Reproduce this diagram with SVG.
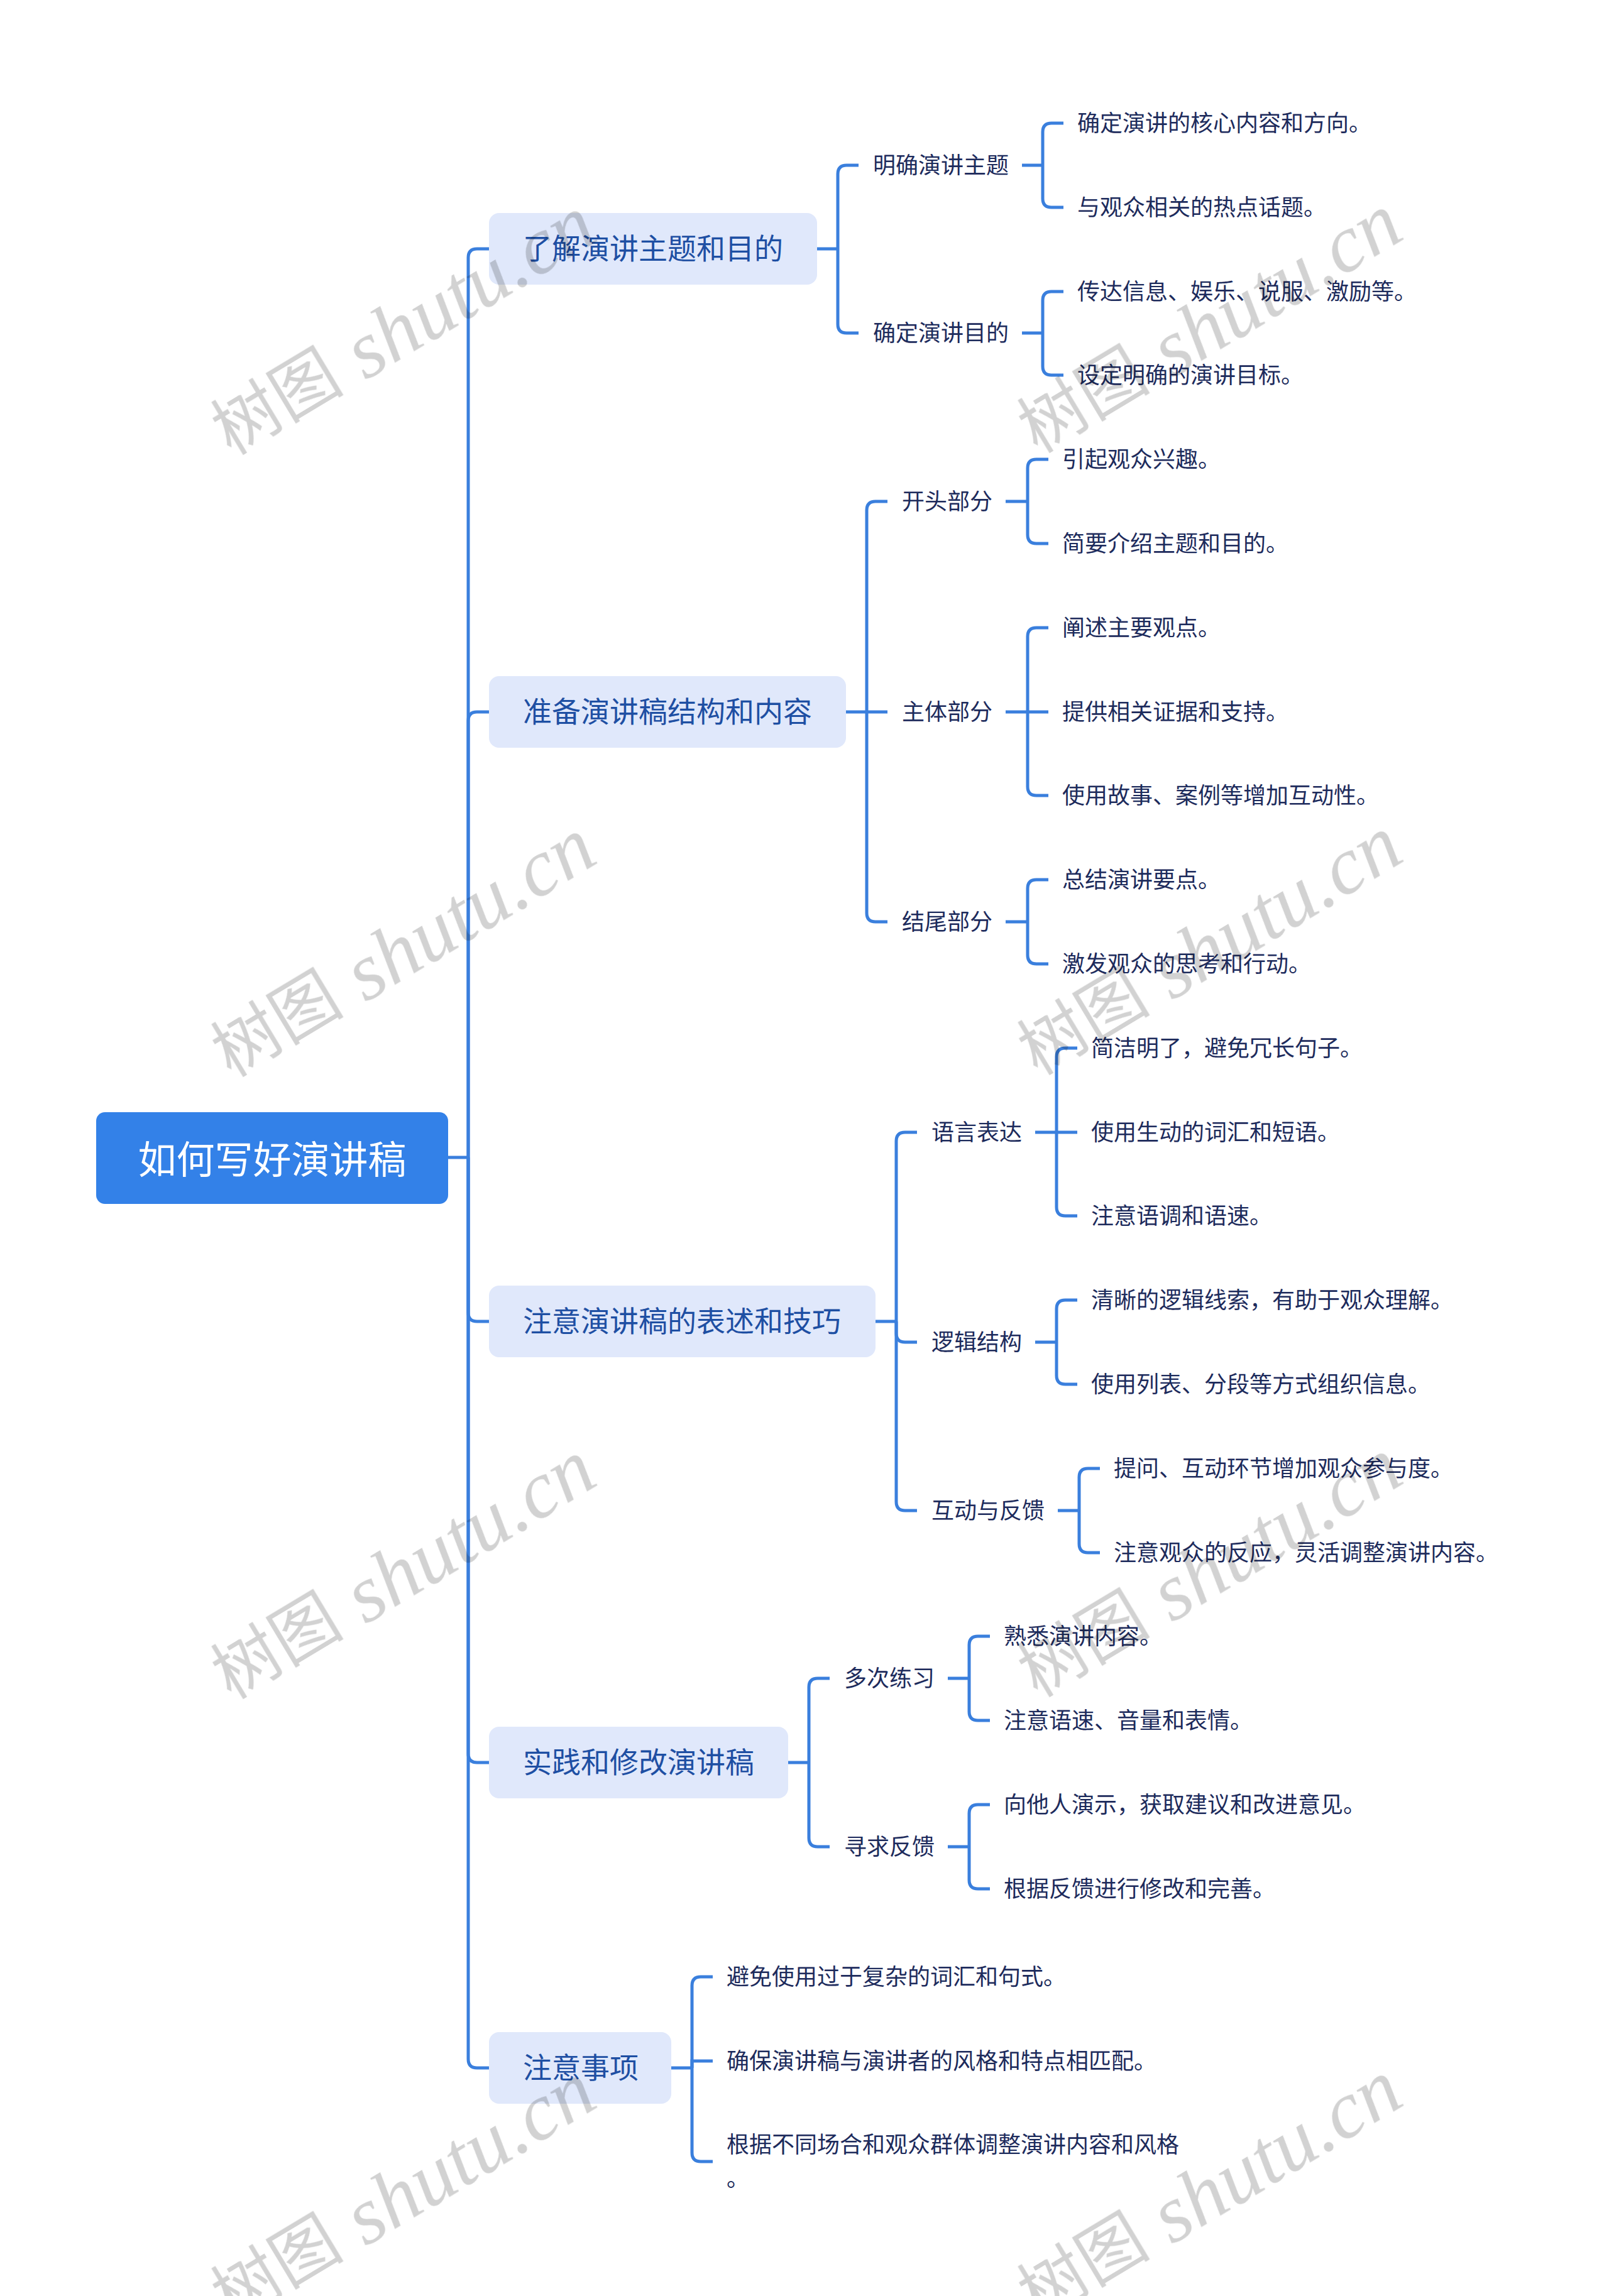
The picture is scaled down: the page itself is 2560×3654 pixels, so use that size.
<svg xmlns="http://www.w3.org/2000/svg" width="2560" height="3654" viewBox="0 0 2560 3654">
<style>
text{font-family:"Noto Sans CJK SC","Noto Sans",sans-serif;dominant-baseline:central}
.root{fill:#3381E8}
.rt{fill:#ffffff;font-size:61px;transform:translateY(-2px)}
.box{fill:#E0E8FB}
.t1{fill:#1E4FA3;font-size:46px;transform:translateY(-4px)}
.t2{fill:#1d2b5c;font-size:36px;transform:translateY(-3px)}
.lf{fill:#1d2b5c;font-size:36px;transform:translateY(-3px)}
.c path{fill:none;stroke:#3A7FDD;stroke-width:5}
#watermarks{mix-blend-mode:multiply}
.wm{font-family:"Liberation Serif","Noto Sans CJK SC",serif;fill:#d2d2d2;text-anchor:middle}
.wm .cj{font-size:106px;font-style:normal}
.wm .la{font-size:130px;font-style:italic}
</style>
<rect width="2560" height="3654" fill="#ffffff"/>
<g class="c" id="connectors">
<path d="M713,1842 H745"/>
<path d="M745,1842 V410 Q745,396 759,396 H778"/>
<path d="M745,1842 V1147 Q745,1133 759,1133 H778"/>
<path d="M745,1842 V2089 Q745,2103 759,2103 H778"/>
<path d="M745,1842 V2791 Q745,2805 759,2805 H778"/>
<path d="M745,1842 V3277 Q745,3291 759,3291 H778"/>
<path d="M1300,396 H1333"/>
<path d="M1333,396 V277 Q1333,263 1347,263 H1366"/>
<path d="M1333,396 V516 Q1333,530 1347,530 H1366"/>
<path d="M1626,263 H1659"/>
<path d="M1659,263 V210 Q1659,196 1673,196 H1692"/>
<path d="M1659,263 V316 Q1659,330 1673,330 H1692"/>
<path d="M1626,530 H1659"/>
<path d="M1659,530 V478 Q1659,464 1673,464 H1692"/>
<path d="M1659,530 V583 Q1659,597 1673,597 H1692"/>
<path d="M1346,1133 H1379"/>
<path d="M1379,1133 V812 Q1379,798 1393,798 H1412"/>
<path d="M1379,1133 H1412"/>
<path d="M1379,1133 V1453 Q1379,1467 1393,1467 H1412"/>
<path d="M1600,798 H1635"/>
<path d="M1635,798 V745 Q1635,731 1649,731 H1668"/>
<path d="M1635,798 V851 Q1635,865 1649,865 H1668"/>
<path d="M1600,1133 H1668"/>
<path d="M1635,1133 V1013 Q1635,999 1649,999 H1668"/>
<path d="M1635,1133 V1252 Q1635,1266 1649,1266 H1668"/>
<path d="M1600,1467 H1635"/>
<path d="M1635,1467 V1414 Q1635,1400 1649,1400 H1668"/>
<path d="M1635,1467 V1520 Q1635,1534 1649,1534 H1668"/>
<path d="M1393,2103 H1426"/>
<path d="M1426,2103 V1816 Q1426,1802 1440,1802 H1459"/>
<path d="M1426,2103 V2122 Q1426,2136 1440,2136 H1459"/>
<path d="M1426,2103 V2390 Q1426,2404 1440,2404 H1459"/>
<path d="M1647,1802 H1714"/>
<path d="M1681,1802 V1682 Q1681,1668 1695,1668 H1714"/>
<path d="M1681,1802 V1921 Q1681,1935 1695,1935 H1714"/>
<path d="M1647,2136 H1681"/>
<path d="M1681,2136 V2083 Q1681,2069 1695,2069 H1714"/>
<path d="M1681,2136 V2189 Q1681,2203 1695,2203 H1714"/>
<path d="M1683,2404 H1717"/>
<path d="M1717,2404 V2351 Q1717,2337 1731,2337 H1750"/>
<path d="M1717,2404 V2457 Q1717,2471 1731,2471 H1750"/>
<path d="M1254,2805 H1287"/>
<path d="M1287,2805 V2685 Q1287,2671 1301,2671 H1320"/>
<path d="M1287,2805 V2925 Q1287,2939 1301,2939 H1320"/>
<path d="M1508,2671 H1542"/>
<path d="M1542,2671 V2618 Q1542,2604 1556,2604 H1575"/>
<path d="M1542,2671 V2724 Q1542,2738 1556,2738 H1575"/>
<path d="M1508,2939 H1542"/>
<path d="M1542,2939 V2886 Q1542,2872 1556,2872 H1575"/>
<path d="M1542,2939 V2992 Q1542,3006 1556,3006 H1575"/>
<path d="M1068,3291 H1101"/>
<path d="M1101,3291 V3160 Q1101,3146 1115,3146 H1134"/>
<path d="M1101,3291 V3280 H1134"/>
<path d="M1101,3291 V3426 Q1101,3440 1115,3440 H1134"/>
</g>
<g id="root"><rect class="root" x="153" y="1770" width="560" height="146" rx="14"/><text class="rt" x="433" y="1843" text-anchor="middle">如何写好演讲稿</text></g>
<g id="n1"><rect class="box" x="778" y="339" width="522" height="114" rx="16"/><text class="t1" x="832" y="396">了解演讲主题和目的</text></g>
<g id="n2"><rect class="box" x="778" y="1076" width="568" height="114" rx="16"/><text class="t1" x="832" y="1133">准备演讲稿结构和内容</text></g>
<g id="n3"><rect class="box" x="778" y="2046" width="615" height="114" rx="16"/><text class="t1" x="832" y="2103">注意演讲稿的表述和技巧</text></g>
<g id="n4"><rect class="box" x="778" y="2748" width="476" height="114" rx="16"/><text class="t1" x="832" y="2805">实践和修改演讲稿</text></g>
<g id="n5"><rect class="box" x="778" y="3234" width="290" height="114" rx="16"/><text class="t1" x="832" y="3291">注意事项</text></g>
<g id="n1a"><text class="t2" x="1389" y="263">明确演讲主题</text></g>
<g id="n1a1"><text class="lf" x="1714" y="196">确定演讲的核心内容和方向。</text></g>
<g id="n1a2"><text class="lf" x="1714" y="330">与观众相关的热点话题。</text></g>
<g id="n1b"><text class="t2" x="1389" y="530">确定演讲目的</text></g>
<g id="n1b1"><text class="lf" x="1714" y="464">传达信息、娱乐、说服、激励等。</text></g>
<g id="n1b2"><text class="lf" x="1714" y="597">设定明确的演讲目标。</text></g>
<g id="n2a"><text class="t2" x="1435" y="798">开头部分</text></g>
<g id="n2a1"><text class="lf" x="1690" y="731">引起观众兴趣。</text></g>
<g id="n2a2"><text class="lf" x="1690" y="865">简要介绍主题和目的。</text></g>
<g id="n2b"><text class="t2" x="1435" y="1133">主体部分</text></g>
<g id="n2b1"><text class="lf" x="1690" y="999">阐述主要观点。</text></g>
<g id="n2b2"><text class="lf" x="1690" y="1133">提供相关证据和支持。</text></g>
<g id="n2b3"><text class="lf" x="1690" y="1266">使用故事、案例等增加互动性。</text></g>
<g id="n2c"><text class="t2" x="1435" y="1467">结尾部分</text></g>
<g id="n2c1"><text class="lf" x="1690" y="1400">总结演讲要点。</text></g>
<g id="n2c2"><text class="lf" x="1690" y="1534">激发观众的思考和行动。</text></g>
<g id="n3a"><text class="t2" x="1482" y="1802">语言表达</text></g>
<g id="n3a1"><text class="lf" x="1736" y="1668">简洁明了，避免冗长句子。</text></g>
<g id="n3a2"><text class="lf" x="1736" y="1802">使用生动的词汇和短语。</text></g>
<g id="n3a3"><text class="lf" x="1736" y="1935">注意语调和语速。</text></g>
<g id="n3b"><text class="t2" x="1482" y="2136">逻辑结构</text></g>
<g id="n3b1"><text class="lf" x="1736" y="2069">清晰的逻辑线索，有助于观众理解。</text></g>
<g id="n3b2"><text class="lf" x="1736" y="2203">使用列表、分段等方式组织信息。</text></g>
<g id="n3c"><text class="t2" x="1482" y="2404">互动与反馈</text></g>
<g id="n3c1"><text class="lf" x="1772" y="2337">提问、互动环节增加观众参与度。</text></g>
<g id="n3c2"><text class="lf" x="1772" y="2471">注意观众的反应，灵活调整演讲内容。</text></g>
<g id="n4a"><text class="t2" x="1343" y="2671">多次练习</text></g>
<g id="n4a1"><text class="lf" x="1597" y="2604">熟悉演讲内容。</text></g>
<g id="n4a2"><text class="lf" x="1597" y="2738">注意语速、音量和表情。</text></g>
<g id="n4b"><text class="t2" x="1343" y="2939">寻求反馈</text></g>
<g id="n4b1"><text class="lf" x="1597" y="2872">向他人演示，获取建议和改进意见。</text></g>
<g id="n4b2"><text class="lf" x="1597" y="3006">根据反馈进行修改和完善。</text></g>
<g id="n5a"><text class="lf" x="1156" y="3146">避免使用过于复杂的词汇和句式。</text></g>
<g id="n5b"><text class="lf" x="1156" y="3280">确保演讲稿与演讲者的风格和特点相匹配。</text></g>
<g id="n5c"><text class="lf" x="1156" y="3413">根据不同场合和观众群体调整演讲内容和风格</text><text class="lf" x="1156" y="3467">。</text></g>
<g id="watermarks">
<text class="wm" transform="translate(641,519) rotate(-31)"><tspan class="cj">树图</tspan><tspan class="la"> shutu.cn</tspan></text>
<text class="wm" transform="translate(1924,516) rotate(-31)"><tspan class="cj">树图</tspan><tspan class="la"> shutu.cn</tspan></text>
<text class="wm" transform="translate(641,1509) rotate(-31)"><tspan class="cj">树图</tspan><tspan class="la"> shutu.cn</tspan></text>
<text class="wm" transform="translate(1924,1506) rotate(-31)"><tspan class="cj">树图</tspan><tspan class="la"> shutu.cn</tspan></text>
<text class="wm" transform="translate(641,2499) rotate(-31)"><tspan class="cj">树图</tspan><tspan class="la"> shutu.cn</tspan></text>
<text class="wm" transform="translate(1924,2496) rotate(-31)"><tspan class="cj">树图</tspan><tspan class="la"> shutu.cn</tspan></text>
<text class="wm" transform="translate(641,3489) rotate(-31)"><tspan class="cj">树图</tspan><tspan class="la"> shutu.cn</tspan></text>
<text class="wm" transform="translate(1924,3486) rotate(-31)"><tspan class="cj">树图</tspan><tspan class="la"> shutu.cn</tspan></text>
</g>
</svg>
